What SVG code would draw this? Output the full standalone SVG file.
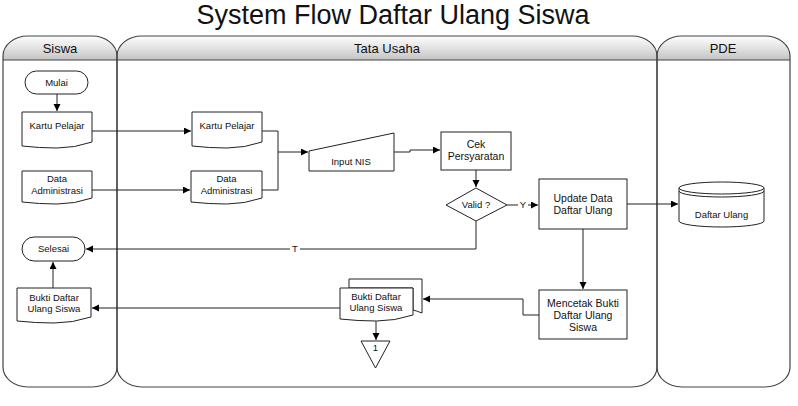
<svg xmlns="http://www.w3.org/2000/svg" width="798" height="406" viewBox="0 0 798 406">
<defs>
<linearGradient id="hdr" x1="0" y1="0" x2="0" y2="1">
<stop offset="0" stop-color="#ffffff"/>
<stop offset="1" stop-color="#c4c4c4"/>
</linearGradient>
<marker id="ah" markerWidth="8" markerHeight="8" refX="7" refY="3.5" orient="auto" markerUnits="userSpaceOnUse">
<path d="M0,0 L7,3.5 L0,7 Z" fill="#000"/>
</marker>
</defs>
<style>
text{font-family:"Liberation Sans",Arial,sans-serif;fill:#111;text-anchor:middle}
.hd{font-size:13px}
.t{font-size:9.5px}
.tb{font-size:10.5px}
.sh{fill:#fff;stroke:#222;stroke-width:1}
.lane{fill:none;stroke:#444;stroke-width:1.2}
.c{fill:none;stroke:#222;stroke-width:1;marker-end:url(#ah)}
.cn{fill:none;stroke:#222;stroke-width:1}
</style>
<rect width="798" height="406" fill="#fff"/>
<text x="393" y="24" style="font-size:27px">System Flow Daftar Ulang Siswa</text>

<g id="lanes">
<path d="M3,60 V56 A25 20 0 0 1 28,36 H92 A25 20 0 0 1 117,56 V60 Z" fill="url(#hdr)"/>
<path d="M117,60 V56 A25 20 0 0 1 142,36 H632 A25 20 0 0 1 657,56 V60 Z" fill="url(#hdr)"/>
<path d="M657,60 V56 A25 20 0 0 1 682,36 H765 A25 20 0 0 1 790,56 V60 Z" fill="url(#hdr)"/>
<path class="lane" d="M3,56 A25 20 0 0 1 28,36 H92 A25 20 0 0 1 117,56 V367 A25 20 0 0 1 92,387 H28 A25 20 0 0 1 3,367 Z"/>
<path class="lane" d="M117,56 A25 20 0 0 1 142,36 H632 A25 20 0 0 1 657,56 V367 A25 20 0 0 1 632,387 H142 A25 20 0 0 1 117,367 Z"/>
<path class="lane" d="M657,56 A25 20 0 0 1 682,36 H765 A25 20 0 0 1 790,56 V367 A25 20 0 0 1 765,387 H682 A25 20 0 0 1 657,367 Z"/>
<line x1="3" y1="60" x2="790" y2="60" stroke="#444" stroke-width="1.2"/>
<text class="hd" x="60" y="53">Siswa</text>
<text class="hd" x="387" y="53">Tata Usaha</text>
<text class="hd" x="723" y="53">PDE</text>
</g>

<g id="connectors">
<path class="c" d="M57,94 V111"/>
<path class="c" d="M92,131 H191"/>
<path class="c" d="M92,190 H190"/>
<path class="cn" d="M262,131 H278 V190 H262"/>
<path class="c" d="M278,152 H308"/>
<path class="c" d="M394,152 H410 V150 H440"/>
<path class="c" d="M476,170 V187"/>
<path class="cn" d="M507,205 H518"/>
<path class="c" d="M528,205 H538"/>
<text class="t" x="523" y="208">Y</text>
<path class="c" d="M627,204 H678"/>
<path class="c" d="M583,229 V289"/>
<path class="c" d="M539,315 H523 V299 H423"/>
<path class="c" d="M376,321 V340"/>
<path class="c" d="M340,308 H92"/>
<path class="c" d="M53,288 V262"/>
<path class="cn" d="M476,221 V249 H300"/>
<path class="c" d="M290,249 H86"/>
<text class="t" x="295" y="252">T</text>
</g>

<g id="mulai">
<rect class="sh" x="25" y="71" width="63" height="23" rx="11.5"/>
<text class="t" x="56.5" y="86">Mulai</text>
</g>

<g id="kartu-siswa">
<path class="sh" d="M22,112 H92 V142 Q74.5,148 57,148 T22,146 Z"/>
<text class="t" x="57" y="129">Kartu Pelajar</text>
</g>

<g id="data-siswa">
<path class="sh" d="M22,171 H92 V198 Q74.5,204 57,204 T22,202 Z"/>
<text class="t" x="57" y="182">Data</text>
<text class="t" x="57" y="194">Administrasi</text>
</g>

<g id="kartu-tu">
<path class="sh" d="M192,112 H262 V142 Q244.5,148 227,148 T192,146 Z"/>
<text class="t" x="227" y="129">Kartu Pelajar</text>
</g>

<g id="data-tu">
<path class="sh" d="M191,171 H262 V198 Q244.25,204 226.5,204 T191,202 Z"/>
<text class="t" x="226.5" y="182">Data</text>
<text class="t" x="226.5" y="194">Administrasi</text>
</g>

<g id="input-nis">
<path class="sh" d="M309,151 L394,133 V171 H309 Z"/>
<text class="t" x="351" y="165">Input NIS</text>
</g>

<g id="cek">
<rect class="sh" x="441" y="132" width="70" height="38"/>
<text class="tb" x="476" y="148">Cek</text>
<text class="tb" x="476" y="160">Persyaratan</text>
</g>

<g id="valid">
<path class="sh" d="M476,188 L507,205 L476,221 L446,205 Z"/>
<text class="t" x="476" y="208">Valid ?</text>
</g>

<g id="update">
<rect class="sh" x="539" y="179" width="88" height="50"/>
<text class="tb" x="583" y="202">Update Data</text>
<text class="tb" x="583" y="214">Daftar Ulang</text>
</g>

<g id="mencetak">
<rect class="sh" x="539" y="290" width="88" height="49"/>
<text class="tb" x="583" y="307">Mencetak Bukti</text>
<text class="tb" x="583" y="319">Daftar Ulang</text>
<text class="tb" x="583" y="331">Siswa</text>
</g>

<g id="daftar-ulang-db">
<path class="sh" d="M679,188 V221 A42.5 6 0 0 0 764,221 V188"/>
<ellipse class="sh" cx="721.5" cy="188" rx="42.5" ry="6"/>
<path class="cn" d="M679,191 A42.5 6 0 0 0 764,191"/>
<text class="t" x="721.5" y="218">Daftar Ulang</text>
</g>

<g id="bukti-tu">
<path class="sh" d="M349,288 V279 H422 V313 Q417,311 413,310 V288 Z"/>
<path class="sh" d="M340,288 H413 V315 Q394.75,321 376.5,321 T340,319 Z"/>
<text class="t" x="376" y="300">Bukti Daftar</text>
<text class="t" x="376" y="311">Ulang Siswa</text>
</g>

<g id="off-page-1">
<path class="sh" d="M361,341 H390 L375.5,368 Z"/>
<text class="t" x="375.5" y="351">1</text>
</g>

<g id="bukti-siswa">
<path class="sh" d="M17,288 H91 V317 Q72.5,323 54,323 T17,321 Z"/>
<text class="t" x="54" y="301">Bukti Daftar</text>
<text class="t" x="54" y="312">Ulang Siswa</text>
</g>

<g id="selesai">
<rect class="sh" x="22" y="237" width="63" height="24" rx="12"/>
<text class="t" x="53.5" y="252">Selesai</text>
</g>
</svg>
